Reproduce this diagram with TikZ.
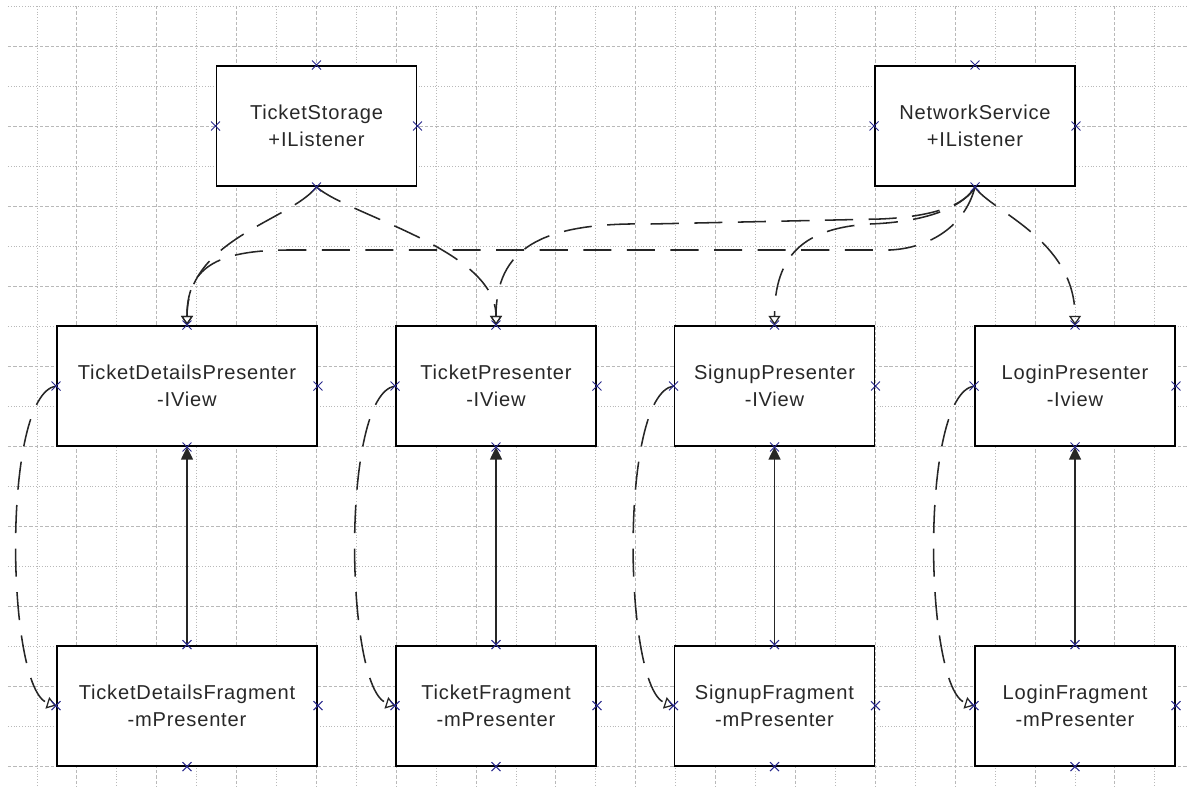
\documentclass[tikz,border=0pt]{standalone}
\usepackage{fontspec}
\newfontfamily\boxfont[LetterSpace=4]{Liberation Sans}
\usetikzlibrary{arrows.meta,shapes.misc}
\definecolor{gridgray}{RGB}{185,185,185}
\definecolor{pinblue}{RGB}{40,40,140}
\definecolor{textgray}{RGB}{40,40,40}

\begin{document}
\begin{tikzpicture}[
    cls/.style={
        rectangle, draw=black, fill=white, line width=1.4pt,
        minimum height=3cm, inner sep=0pt, align=center,
        text=textgray, font=\boxfont\fontsize{14.3}{19.2}\selectfont
    },
    wide/.style={cls, minimum width=6.5cm},
    narrow/.style={cls, minimum width=5cm},
    pin/.style={
        cross out, draw=pinblue, line width=0.7pt,
        minimum size=0.2cm, inner sep=0pt
    },
    griddot/.style={gridgray, line width=0.6pt, dash pattern=on 0.7pt off 1.3pt},
    griddash/.style={gridgray, line width=0.7pt, dash pattern=on 2.4pt off 1.4pt},
    dep/.style={
        line width=1.1pt, black!85, dash pattern=on 20pt off 11pt,
        -{Triangle[open, length=6.5pt, width=8.5pt, line width=0.9pt]}
    },
    uses/.style={line width=1.1pt, black!85, -{Triangle[length=9pt, width=8.5pt]}}
]
\useasboundingbox (0,0) rectangle (29.675,-19.65);

% --- Background grid ---
\foreach \j in {0,2,...,18}
    \draw[griddot] (0.2,-0.15-\j) -- (29.675,-0.15-\j);
\foreach \j in {1,3,...,19}
    \draw[griddash] (0.2,-0.15-\j) -- (29.675,-0.15-\j);
\foreach \k in {0,2,...,28}
    \draw[griddot] ({0.925+0.998*\k},-0.15) -- ({0.925+0.998*\k},-19.65);
\foreach \k in {1,3,...,27}
    \draw[griddash] ({0.925+0.998*\k},-0.15) -- ({0.925+0.998*\k},-19.65);

% --- Listeners (top) ---
\node[narrow] (store) at (7.9125,-3.15) {TicketStorage\\+IListener};
\node[narrow] (net)   at (24.375,-3.15) {NetworkService\\+IListener};

% --- Presenters ---
\node[wide]   (tdp) at (4.675,-9.65)   {TicketDetailsPresenter\\-IView};
\node[narrow] (tp)  at (12.4,-9.65)    {TicketPresenter\\-IView};
\node[narrow] (sp)  at (19.3625,-9.65) {SignupPresenter\\-IView};
\node[narrow] (lp)  at (26.875,-9.65)  {LoginPresenter\\-Iview};

% --- Fragments ---
\node[wide]   (tdf) at (4.675,-17.64)   {TicketDetailsFragment\\-mPresenter};
\node[narrow] (tf)  at (12.4,-17.64)    {TicketFragment\\-mPresenter};
\node[narrow] (sf)  at (19.3625,-17.64) {SignupFragment\\-mPresenter};
\node[narrow] (lf)  at (26.875,-17.64)  {LoginFragment\\-mPresenter};

% --- Listener links ---
\draw[dep] (store.south) .. controls +(-0.675,-0.85) and +(0,2.15) .. (tdp.north);
\draw[dep] (store.south) .. controls +(0.825,-0.725) and +(0,1.9) .. (tp.north);
\draw[dep] (net.south) .. controls +(0.375,-0.6) and +(0,2.15) .. (lp.north);
\draw[dep] (net.south) .. controls +(-0.25,-0.975) and +(1,0.05) .. (22.25,-6.25)
    -- (7.25,-6.25) .. controls +(-1.9,0) and +(0,1.4) .. (tdp.north);
\draw[dep] (net.south) .. controls +(-0.25,-0.475) and +(1.25,0.05) .. (22,-5.475)
    -- (16.25,-5.6) .. controls +(-2.75,0.05) and +(0,1.9) .. (tp.north);
\draw[dep] (net.south) .. controls +(-0.325,-0.525) and +(1.375,0.05) .. (21.75,-5.6)
    .. controls +(-1.625,-0.1) and +(0,1.775) .. (sp.north);

% --- Fragment -> Presenter ---
\foreach \p/\f in {tdp/tdf, tp/tf, sp/sf, lp/lf} {
    \draw[uses] (\f.north) -- (\p.south);
    \draw[dep] (\p.west) .. controls +(-1.375,-0.225) and +(-1.25,0.4) .. (\f.west);
}

% --- Connection points ---
\foreach \n in {store,net,tdp,tp,sp,lp,tdf,tf,sf,lf}
    \foreach \a in {north,south,east,west}
        \node[pin] (\n-\a) at (\n.\a) {};

\end{tikzpicture}
\end{document}
